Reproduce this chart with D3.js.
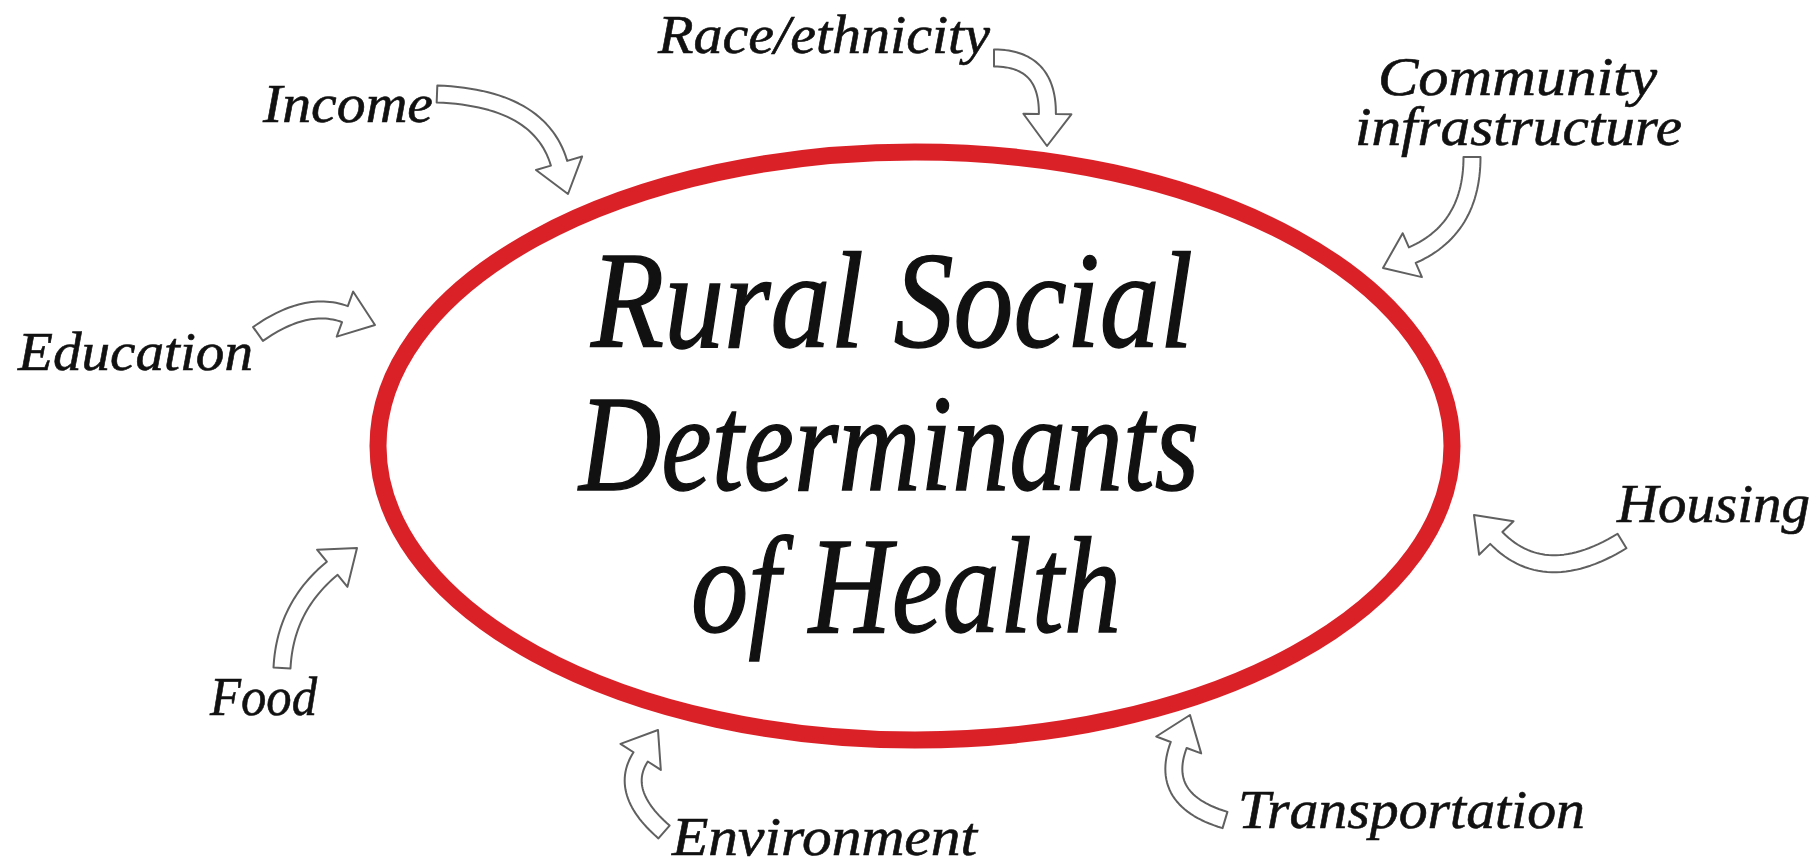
<!DOCTYPE html>
<html>
<head>
<meta charset="utf-8">
<script src="https://cdn.jsdelivr.net/npm/d3@7"></script>
<style>
  body { margin: 0; background: #fff; }
  text { font-family: "Liberation Serif", "DejaVu Serif", serif; font-style: italic; fill: #111; }
</style>
</head>
<body>
<div id="container"></div>
<script>
// what the diagram says
let titleLines = ["Rural Social", "Determinants", "of Health"];
let factors = ["Income", "Race/ethnicity", "Community infrastructure", "Education",
               "Housing", "Food", "Environment", "Transportation"];

// where things go (layout, in page pixels)
let titleLayout = [
  { x: 591, y: 347, w: 602 },
  { x: 579, y: 490, w: 620 },
  { x: 691, y: 632, w: 430 }
];

let labelLayout = [
  { lines: ["Income"], x: 263, y: 122, w: [170] },
  { lines: ["Race/ethnicity"], x: 658, y: 53, w: [332] },
  { lines: ["Community", "infrastructure"], x: [1378, 1355], y: [95, 145], w: [279, 327] },
  { lines: ["Education"], x: 18, y: 370, w: [235] },
  { lines: ["Housing"], x: 1617, y: 522, w: [193] },
  { lines: ["Food"], x: 210, y: 715, w: [107] },
  { lines: ["Environment"], x: 672, y: 855, w: [305] },
  { lines: ["Transportation"], x: 1238, y: 828, w: [347] }
];

// arrows: tail, bend control and tip
let arrowLayout = [
  { tail: [437, 94],   ctrl: [540, 98],   tip: [568, 194] },
  { tail: [994, 58],   ctrl: [1048, 58],  tip: [1047, 146] },
  { tail: [1472, 157], ctrl: [1472, 229], tip: [1383, 268] },
  { tail: [258, 334],  ctrl: [306, 300],  tip: [375, 325] },
  { tail: [1622, 541], ctrl: [1545, 588], tip: [1474, 515] },
  { tail: [282, 668],  ctrl: [285, 607],  tip: [357, 548] },
  { tail: [664, 832],  ctrl: [618, 792],  tip: [658, 730] },
  { tail: [1225, 820], ctrl: [1158, 800], tip: [1190, 715] }
];

let w = 1816;
let h = 867;
let viz = d3.select("#container")
  .append("svg")
    .attr("width", w)
    .attr("height", h)
;

// the red ellipse
viz.append("ellipse")
  .attr("cx", 915)
  .attr("cy", 446)
  .attr("rx", 537)
  .attr("ry", 294)
  .attr("fill", "none")
  .attr("stroke", "#da2128")
  .attr("stroke-width", 17)
;

// title in the middle, each line placed by its left edge
viz.selectAll("text.title")
  .data(titleLines)
  .enter()
  .append("text")
    .attr("class", "title")
    .attr("x", function(d, i){ return titleLayout[i].x; })
    .attr("y", function(d, i){ return titleLayout[i].y; })
    .attr("font-size", 138)
    .attr("textLength", function(d, i){ return titleLayout[i].w; })
    .attr("lengthAdjust", "spacingAndGlyphs")
    .attr("stroke", "#111")
    .attr("stroke-width", 1.4)
    .text(function(d){ return d; })
;

// curved block arrow built around a quadratic curve
function quad(p0, p1, p2, t){
  let a = (1 - t) * (1 - t), b = 2 * (1 - t) * t, c = t * t;
  return [a * p0[0] + b * p1[0] + c * p2[0], a * p0[1] + b * p1[1] + c * p2[1]];
}
function quadDeriv(p0, p1, p2, t){
  return [2 * (1 - t) * (p1[0] - p0[0]) + 2 * t * (p2[0] - p1[0]),
          2 * (1 - t) * (p1[1] - p0[1]) + 2 * t * (p2[1] - p1[1])];
}
function arrowOutline(a){
  let shaft = 17, headW = 48, headLen = 32;
  let dx = a.tip[0] - a.ctrl[0], dy = a.tip[1] - a.ctrl[1];
  let len = Math.hypot(dx, dy);
  let ux = dx / len, uy = dy / len;
  let base = [a.tip[0] - ux * headLen, a.tip[1] - uy * headLen];
  let left = [], right = [];
  let n = 30;
  for (let i = 0; i <= n; i++){
    let t = i / n;
    let p = quad(a.tail, a.ctrl, base, t);
    let d = quadDeriv(a.tail, a.ctrl, base, t);
    let dl = Math.hypot(d[0], d[1]);
    let nx = -d[1] / dl, ny = d[0] / dl;
    left.push([p[0] + nx * shaft / 2, p[1] + ny * shaft / 2]);
    right.push([p[0] - nx * shaft / 2, p[1] - ny * shaft / 2]);
  }
  let nx = -uy, ny = ux;
  let pts = left.concat([
    [base[0] + nx * headW / 2, base[1] + ny * headW / 2],
    a.tip,
    [base[0] - nx * headW / 2, base[1] - ny * headW / 2]
  ]).concat(right.reverse());
  return pts;
}

let outline = d3.line().curve(d3.curveLinearClosed);

viz.selectAll("path.arrow")
  .data(arrowLayout)
  .enter()
  .append("path")
    .attr("class", "arrow")
    .attr("d", function(d){ return outline(arrowOutline(d)); })
    .attr("fill", "#fff")
    .attr("stroke", "#606060")
    .attr("stroke-width", 2)
    .attr("stroke-linejoin", "round")
;

// factor labels
let labelGroups = viz.selectAll("g.label")
  .data(factors)
  .enter()
  .append("g")
    .attr("class", "label")
;

labelGroups.each(function(name, i){
  let lay = labelLayout[i];
  let g = d3.select(this);
  lay.lines.forEach(function(line, j){
    g.append("text")
      .attr("x", Array.isArray(lay.x) ? lay.x[j] : lay.x)
      .attr("y", Array.isArray(lay.y) ? lay.y[j] : lay.y)
      .attr("font-size", 54)
      .attr("textLength", lay.w[j])
      .attr("lengthAdjust", "spacingAndGlyphs")
      .attr("stroke", "#111")
      .attr("stroke-width", 0.6)
      .text(line);
  });
});
</script>
</body>
</html>
